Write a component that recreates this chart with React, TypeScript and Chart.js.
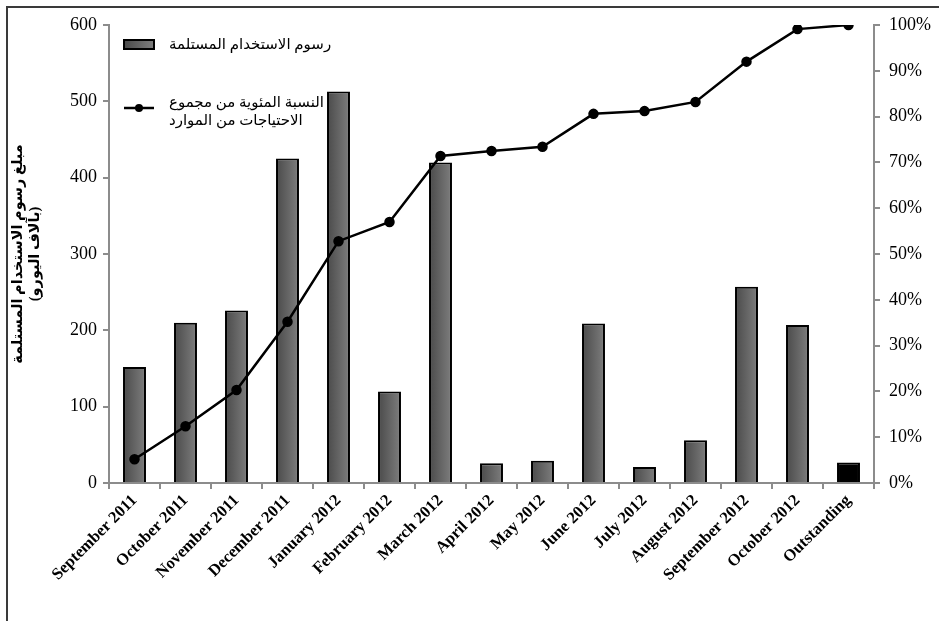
import React, { useEffect, useRef } from "react";
import { Chart, registerables } from "chart.js";

Chart.register(...registerables);

const categories = [
  "September 2011",
  "October 2011",
  "November 2011",
  "December 2011",
  "January 2012",
  "February 2012",
  "March 2012",
  "April 2012",
  "May 2012",
  "June 2012",
  "July 2012",
  "August 2012",
  "September 2012",
  "October 2012",
  "Outstanding",
];

const feesReceived = [152, 210, 226, 425, 513, 120, 420, 26, 29, 209, 21, 56, 257, 207, 27];

const cumulativePercent = [5.2, 12.4, 20.3, 35.2, 52.8, 57.0, 71.4, 72.5, 73.4, 80.6, 81.2, 83.2, 92.0, 99.1, 100];

const barLabel = "رسوم الاستخدام المستلمة";
const lineLabel = ["النسبة المئوية من مجموع", "الاحتياجات من الموارد"];
const yTitle = ["مبلغ رسوم الاستخدام المستلمة", "(بآلاف اليورو)"];

const SERIF = "'Liberation Serif', 'Times New Roman', 'DejaVu Sans', serif";

function makeGradient(c: CanvasRenderingContext2D, cx: number, half: number) {
  const g = c.createLinearGradient(cx - half, 0, cx + half, 0);
  g.addColorStop(0, "#4a4a4a");
  g.addColorStop(1, "#7e7e7e");
  return g;
}

function barFill(ctx: any) {
  const i = ctx.dataIndex;
  if (i !== undefined && categories[i] === "Outstanding") return "#000000";
  return "#666666";
}

const gradientPlugin = {
  id: "barGradient",
  beforeDatasetsDraw(chart: any) {
    const c = chart.ctx as CanvasRenderingContext2D;
    chart.data.datasets.forEach((ds: any, di: number) => {
      if (ds.type !== "bar") return;
      const meta = chart.getDatasetMeta(di);
      meta.data.forEach((el: any, i: number) => {
        if (categories[i] === "Outstanding") return;
        if (!isFinite(el.x) || !isFinite(el.width)) return;
        el.options.backgroundColor = makeGradient(c, el.x, el.width / 2);
      });
    });
  },
};

const framePlugin = {
  id: "frame",
  afterDraw(chart: any) {
    const c = chart.ctx as CanvasRenderingContext2D;
    c.save();
    c.strokeStyle = "#3a3a3a";
    c.lineWidth = 2;
    c.beginPath();
    c.moveTo(7, 621);
    c.lineTo(7, 7);
    c.lineTo(939, 7);
    c.stroke();
    c.restore();
  },
};

const legendPlugin = {
  id: "customLegend",
  afterDraw(chart: any) {
    const c = chart.ctx as CanvasRenderingContext2D;
    const a = chart.chartArea;
    const x0 = a.left + 15;
    c.save();
    c.fillStyle = makeGradient(c, x0 + 15, 15);
    c.fillRect(x0, 40, 30, 9);
    c.strokeStyle = "#000";
    c.lineWidth = 2;
    c.strokeRect(x0, 40, 30, 9);
    c.fillStyle = "#000";
    c.font = `15px ${SERIF}`;
    c.textAlign = "left";
    c.textBaseline = "middle";
    c.fillText(barLabel, x0 + 45, 45);
    c.beginPath();
    c.lineWidth = 2.5;
    c.moveTo(x0, 108);
    c.lineTo(x0 + 30, 108);
    c.stroke();
    c.beginPath();
    c.arc(x0 + 15, 108, 4, 0, Math.PI * 2);
    c.fill();
    c.fillText(lineLabel[0], x0 + 45, 103);
    c.fillText(lineLabel[1], x0 + 45, 121);
    c.restore();
  },
};

export default function App() {
  const ref = useRef<HTMLCanvasElement | null>(null);

  useEffect(() => {
    if (!ref.current) return;
    const chart = new Chart(ref.current, {
      type: "bar",
      data: {
        labels: categories,
        datasets: [
          {
            type: "line" as any,
            label: lineLabel.join(" "),
            data: cumulativePercent,
            yAxisID: "y1",
            borderColor: "#000",
            backgroundColor: "#000",
            borderWidth: 2.5,
            pointRadius: 4,
            pointBackgroundColor: "#000",
            pointBorderColor: "#000",
            tension: 0,
            order: 0,
          } as any,
          {
            type: "bar" as any,
            label: barLabel,
            data: feesReceived,
            yAxisID: "y",
            backgroundColor: barFill,
            borderColor: "#000",
            borderWidth: 2,
            categoryPercentage: 1,
            barPercentage: 0.45,
            order: 1,
          } as any,
        ],
      },
      options: {
        responsive: false,
        animation: false,
        devicePixelRatio: 1,
        layout: { padding: { top: 25, left: 0, right: 0, bottom: 0 } },
        plugins: {
          legend: { display: false },
          tooltip: { enabled: false },
        },
        scales: {
          x: {
            type: "category",
            grid: {
              display: true,
              drawOnChartArea: false,
              drawTicks: true,
              tickLength: 6,
              color: "#8c8c8c",
              lineWidth: 2,
              offset: true,
            },
            border: { display: true, color: "#8c8c8c", width: 2 },
            ticks: {
              autoSkip: false,
              minRotation: 45,
              maxRotation: 45,
              color: "#000",
              padding: 2,
              font: { family: SERIF, size: 16.5, weight: "bold" },
            },
            afterFit: (s: any) => {
              s.height = 138;
            },
          },
          y: {
            position: "left",
            min: 0,
            max: 600,
            ticks: {
              stepSize: 100,
              color: "#000",
              padding: 6,
              font: { family: SERIF, size: 18 },
            },
            grid: {
              drawOnChartArea: false,
              drawTicks: true,
              tickLength: 6,
              color: "#8c8c8c",
              lineWidth: 2,
            },
            border: { display: true, color: "#8c8c8c", width: 2 },
            title: {
              display: true,
              text: yTitle,
              color: "#000",
              font: { family: SERIF, size: 14.5, weight: "bold", lineHeight: 1.15 },
              padding: { top: 10, bottom: 0 },
            },
            afterFit: (s: any) => {
              s.width = 109;
            },
          },
          y1: {
            position: "right",
            min: 0,
            max: 100,
            ticks: {
              stepSize: 10,
              color: "#000",
              padding: 9,
              font: { family: SERIF, size: 18 },
              callback: (v: any) => `${v}%`,
            },
            grid: {
              drawOnChartArea: false,
              drawTicks: true,
              tickLength: 6,
              color: "#8c8c8c",
              lineWidth: 2,
            },
            border: { display: true, color: "#8c8c8c", width: 2 },
            afterFit: (s: any) => {
              s.width = 65;
            },
          },
        },
      } as any,
      plugins: [gradientPlugin, framePlugin, legendPlugin],
    });
    return () => chart.destroy();
  }, []);

  return (
    <div style={{ position: "absolute", left: 0, top: 0, width: 939, height: 621, background: "#fff" }}>
      <canvas ref={ref} width={939} height={621} style={{ width: 939, height: 621, display: "block" }} />
    </div>
  );
}
